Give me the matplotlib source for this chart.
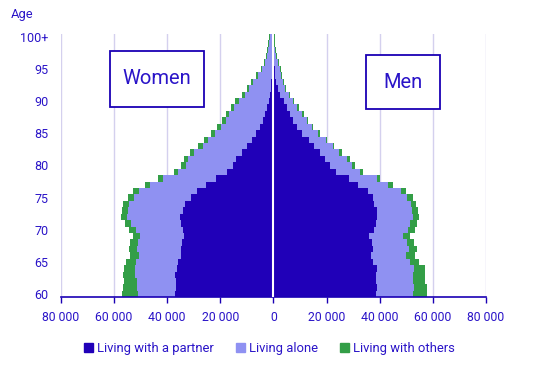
import numpy as np
import matplotlib.pyplot as plt
from matplotlib.patches import Patch, Rectangle

plt.rcParams['font.family'] = ['Roboto', 'DejaVu Sans']

ages = list(range(60, 101))
age_ticks = [60, 65, 70, 75, 80, 85, 90, 95, 100]
age_labels = ['60', '65', '70', '75', '80', '85', '90', '95', '100+']

# women, ages 60..100+
women_partner = [36980, 36600, 36600, 36980, 36230, 35850, 34720, 34720, 34340, 33590,
                 33960, 34720, 35100, 33960, 33210, 30950, 28680, 25280, 21510, 17360,
                 15100, 13960, 11700, 9810, 7920, 6420, 4910, 3770, 3020, 2260,
                 1510, 1130, 940, 750, 570, 380, 260, 190, 110, 80, 110]
women_alone = [13960, 14720, 14720, 15100, 15850, 15850, 15850, 16600, 16600, 16600,
               17740, 18870, 20000, 20760, 21130, 21510, 21890, 21130, 20000, 18490,
               17740, 18110, 18110, 16600, 16600, 15470, 14720, 13960, 13590, 12450,
               11320, 9430, 8110, 6790, 5090, 3770, 2750, 2080, 1770, 1430, 1130]
women_others = [6040, 5280, 4910, 4530, 4150, 3770, 3400, 3020, 3020, 2640,
                2640, 2260, 2260, 2260, 2260, 2260, 2260, 1890, 1890, 1510,
                1890, 1510, 1510, 1890, 1510, 1510, 1510, 1510, 1130, 1130,
                1510, 1130, 870, 750, 750, 570, 640, 490, 490, 490, 380]

# men, ages 60..100+
men_partner = [38500, 38870, 38500, 38500, 38870, 37360, 36600, 37360, 36980, 35850,
               37740, 38500, 38870, 38870, 37740, 37360, 35470, 31700, 28300, 23400,
               21130, 19250, 17360, 15100, 13210, 10940, 9060, 7550, 6420, 5280,
               4150, 2640, 1890, 1130, 750, 450, 260, 150, 110, 75, 75]
men_alone = [13960, 13960, 13960, 13960, 13960, 13960, 13210, 13590, 13210, 12830,
             12830, 12830, 13590, 13210, 13960, 12830, 12450, 11320, 10570, 9060,
             8300, 8300, 7170, 7170, 6420, 5660, 5280, 4910, 4530, 3770,
             3400, 3400, 2640, 2640, 2260, 1890, 1320, 980, 640, 300, 190]
men_others = [5280, 4910, 4530, 4530, 4150, 3400, 3400, 3020, 2640, 2640,
              2640, 2640, 2260, 2260, 1890, 2260, 1890, 1890, 1130, 1130,
              1130, 1130, 1130, 500, 400, 750, 380, 380, 380, 750,
              380, 380, 380, 380, 380, 380, 380, 380, 380, 380, 380]

series = ['Living with a partner', 'Living alone', 'Living with others']
colors = ['#2000b8', '#8f91f2', '#339e47']
text_c = '#2a14c8'
line_c = '#1a00b4'

y = np.array(ages)
wp = np.array(women_partner)
wa = np.array(women_alone)
wo = np.array(women_others)
mp = np.array(men_partner)
ma = np.array(men_alone)
mo = np.array(men_others)

W, H = 534, 383
fig = plt.figure(figsize=(W / 100, H / 100), dpi=100)
ax = fig.add_axes([0.114, 0.224, 0.796, 0.688])

for x in range(-80000, 80001, 20000):
    if x != 0:
        ax.axvline(x, color='#d4d0ee', lw=1, zorder=0)

ax.barh(y, -wp, height=1.0, color=colors[0], lw=0, zorder=2)
ax.barh(y, -wa, left=-wp, height=1.0, color=colors[1], lw=0, zorder=2)
ax.barh(y, -wo, left=-wp - wa, height=1.0, color=colors[2], lw=0, zorder=2)
ax.barh(y, mp, height=1.0, color=colors[0], lw=0, zorder=2)
ax.barh(y, ma, left=mp, height=1.0, color=colors[1], lw=0, zorder=2)
ax.barh(y, mo, left=mp + ma, height=1.0, color=colors[2], lw=0, zorder=2)
ax.axvline(0, color='white', lw=1.5, zorder=3)

ax.set_xlim(-80000, 80000)
ax.set_ylim(59.5, 100.5)
xt = list(range(-80000, 80001, 20000))
ax.set_xticks(xt)
ax.set_xticklabels(['{:,}'.format(abs(v)).replace(',', ' ') for v in xt])
ax.set_yticks(age_ticks)
ax.set_yticklabels(age_labels)
ax.tick_params(axis='y', length=0, pad=9, labelcolor=text_c, labelsize=9)
ax.tick_params(axis='x', length=4, width=1, color=line_c, labelcolor=text_c,
               labelsize=8.8, pad=6)
for s in ['left', 'right', 'top']:
    ax.spines[s].set_visible(False)
ax.spines['bottom'].set_color(line_c)
ax.spines['bottom'].set_linewidth(1.2)

fig.text(0.021, 0.978, 'Age', color=text_c, fontsize=9.3, va='top')

# labelled boxes, placed in figure pixels
for label, (x0, y0, x1, y1) in [('Women', (110, 51.5, 204, 106.5)),
                                ('Men', (366, 55, 440, 109))]:
    fig.add_artist(Rectangle((x0 / W, 1 - y1 / H), (x1 - x0) / W, (y1 - y0) / H,
                             transform=fig.transFigure, fc='white', ec=line_c,
                             lw=1.3, zorder=5))
    fig.text((x0 + x1) / 2 / W, 1 - (y0 + y1) / 2 / H, label, fontsize=14.5,
             color=text_c, ha='center', va='center', zorder=6)

handles = [Patch(color=c, label=s) for c, s in zip(colors, series)]
fig.legend(handles=handles, loc='center', bbox_to_anchor=(0.505, 0.091), ncol=3,
           frameon=False, fontsize=9.4, handlelength=0.7, handleheight=0.7,
           handletextpad=0.3, columnspacing=1.7, labelcolor=text_c)

fig.savefig('out.png', dpi=100)
